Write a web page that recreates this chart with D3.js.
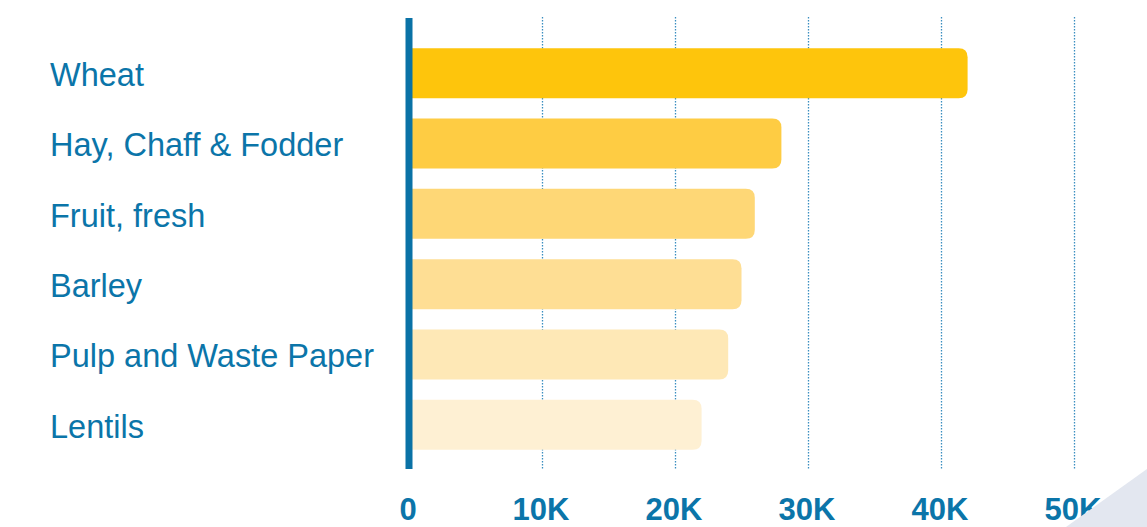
<!DOCTYPE html>
<html>
<head>
<meta charset="utf-8">
<script src="https://cdn.jsdelivr.net/npm/d3@7"></script>
<style>
  html, body { margin: 0; padding: 0; background: #ffffff; }
  svg { display: block; }
</style>
</head>
<body>
<svg id="chart" width="1147" height="527"></svg>
<script>
const categories = ["Wheat", "Hay, Chaff & Fodder", "Fruit, fresh", "Barley", "Pulp and Waste Paper", "Lentils"];
const values = [42000, 28000, 26000, 25000, 24000, 22000];
const barColors = ["#FEC50C", "#FECC43", "#FED776", "#FEDE94", "#FEE8B6", "#FEF0D3"];
const tickValues = [0, 10000, 20000, 30000, 40000, 50000];
const tickLabels = ["0", "10K", "20K", "30K", "40K", "50K"];

const svg = d3.select("#chart");
const x = d3.scaleLinear().domain([0, 50000]).range([409, 1074]);
const y = d3.scaleBand().domain(categories).range([38, 460]).paddingInner(0.29).paddingOuter(0.145);

const blue = "#0B75A9";

// gridlines
svg.append("g").selectAll("line").data(tickValues.slice(1)).join("line")
  .attr("x1", d => Math.round(x(d)) + 0.5).attr("x2", d => Math.round(x(d)) + 0.5)
  .attr("y1", 17).attr("y2", 469)
  .attr("stroke", "#3A8EC0").attr("stroke-width", 1.3)
  .attr("stroke-dasharray", "1.5,1.5");

// bars with rounded right corners
const r = 9;
svg.append("g").selectAll("path").data(categories).join("path")
  .attr("d", (c, i) => {
    const x0 = x(0), x1 = x(values[i]), y0 = y(c), h = y.bandwidth();
    return `M${x0},${y0} H${x1 - r} Q${x1},${y0} ${x1},${y0 + r} V${y0 + h - r} Q${x1},${y0 + h} ${x1 - r},${y0 + h} H${x0} Z`;
  })
  .attr("fill", (c, i) => barColors[i]);

// axis line
svg.append("line")
  .attr("x1", x(0)).attr("x2", x(0)).attr("y1", 18).attr("y2", 469)
  .attr("stroke", "#0A72A6").attr("stroke-width", 7);

// category labels
svg.append("g").selectAll("text").data(categories).join("text")
  .attr("x", 50).attr("y", c => y(c) + y.bandwidth() / 2 + 1.5)
  .attr("dy", "0.35em")
  .attr("font-family", "Liberation Sans, Arial, sans-serif")
  .attr("font-size", 32.5)
  .attr("fill", blue)
  .text(c => c);

// tick labels
svg.append("g").selectAll("text").data(tickValues).join("text")
  .attr("x", d => x(d) - 1).attr("y", 520)
  .attr("text-anchor", "middle")
  .attr("font-family", "Liberation Sans, Arial, sans-serif")
  .attr("font-weight", "bold")
  .attr("font-size", 31)
  .attr("fill", blue)
  .text((d, i) => tickLabels[i]);

// decorative corner triangle
svg.append("polygon")
  .attr("points", "1147,469 1147,527 1066,527")
  .attr("fill", "#E3E7F0");
</script>
</body>
</html>
